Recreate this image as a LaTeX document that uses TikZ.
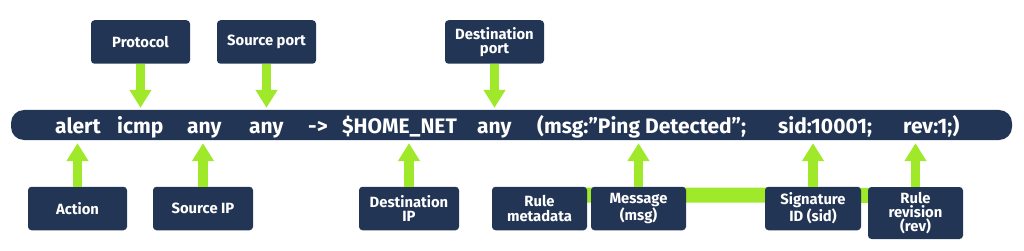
\documentclass[tikz,border=0pt]{standalone}
\usepackage{fontspec}
\setmainfont{Fira Sans}
\usetikzlibrary{arrows.meta,backgrounds}
\definecolor{navy}{RGB}{35,53,84}
\definecolor{lime}{RGB}{160,232,42}
\begin{document}
\begin{tikzpicture}[x=1pt,y=-1pt,
  lbl/.style={fill=navy, text=white, rounded corners=3.5pt, minimum width=99pt, minimum height=43.5pt, align=center, inner sep=2pt, font=\fontsize{14.8}{14.3}\selectfont\bfseries},
  tok/.style={anchor=base west, inner sep=0pt, text=white, font=\fontsize{21}{24}\selectfont\bfseries},
  arr/.style={draw=lime, line width=9.5pt, -{Triangle[width=21pt,length=18pt]}}]
\useasboundingbox (0,0) rectangle (1024,251);
% main rule bar
\node[fill=navy, rounded corners=13pt, minimum width=1001pt, minimum height=30pt, inner sep=0pt] (bar) at (511.5,125) {};
\node[tok] (t1) at (55,133) {alert};
\node[tok] (t2) at (117,133) {icmp};
\node[tok] (t3) at (187,133) {any};
\node[tok] (t4) at (249,133) {any};
\node[tok] (t5) at (308,133) {->};
\node[tok] (t6) at (342,133) {\$HOME\_NET};
\node[tok] (t7) at (477,133) {any};
\node[tok] (t8) at (537,133) {(msg:”Ping Detected”;};
\node[tok] (t9) at (778,133) {sid:10001;};
\node[tok] (t10) at (903,133) {rev:1;)};
% top labels
\node[lbl] (proto) at (140.5,42) {Protocol};
\node[lbl] (sport) at (266.5,42) {Source port};
\node[lbl] (dport) at (494.5,42) {Destination\\port};
% bottom labels
\node[lbl] (action) at (77.5,208.5) {Action};
\node[lbl, minimum width=100pt] (sip) at (203,208.5) {Source IP};
\node[lbl, minimum width=100pt] (dip) at (409,208.5) {Destination\\IP};
\node[lbl, minimum width=95pt] (meta) at (539.5,208.5) {Rule\\metadata};
\node[lbl, minimum width=95pt] (msg) at (638.5,208.5) {Message\\(msg)};
\node[lbl, minimum width=96pt] (sig) at (813,208.5) {Signature\\ID (sid)};
\node[lbl, minimum width=95pt, minimum height=52pt] (rev) at (915.5,213) {Rule\\revision\\(rev)};
% metadata connector
\begin{scope}[on background layer]
\draw[lime, line width=15pt] ([yshift=-8.5pt]meta.north) -- ([yshift=-8.5pt]rev.north);
\end{scope}
% arrows
\draw[arr, shorten >=2pt] (proto.south) -- (proto.south |- bar.north);
\draw[arr, shorten >=2pt] (sport.south) -- (sport.south |- bar.north);
\draw[arr, shorten >=2pt] (dport.south) -- (dport.south |- bar.north);
\draw[arr, shorten >=3pt] (action.north) -- (action.north |- bar.south);
\draw[arr, shorten >=3pt] (sip.north) -- (sip.north |- bar.south);
\draw[arr, shorten >=3pt] (dip.north) -- (dip.north |- bar.south);
\draw[arr, shorten >=3pt] (msg.north) -- (msg.north |- bar.south);
\draw[arr, shorten >=3pt] (sig.north) -- (sig.north |- bar.south);
\draw[arr, shorten >=3pt] (rev.north) -- (rev.north |- bar.south);
\end{tikzpicture}
\end{document}
